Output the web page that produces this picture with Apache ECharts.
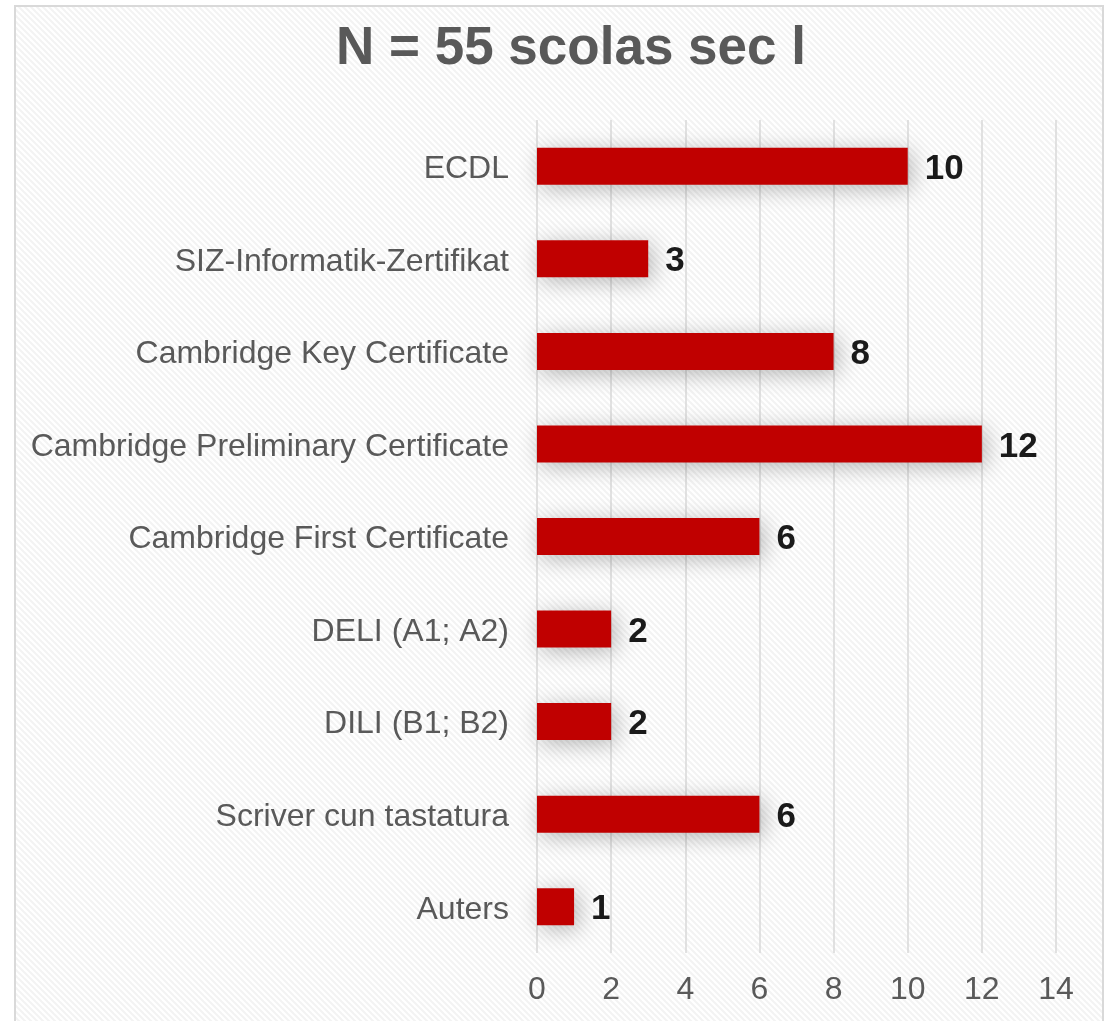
<!DOCTYPE html>
<html>
<head>
<meta charset="utf-8">
<script src="https://cdn.jsdelivr.net/npm/echarts@6/dist/echarts.min.js"></script>
<style>
html,body{margin:0;padding:0;background:#fff;}
#chart{width:1109px;height:1021px;}
</style>
</head>
<body>
<div id="chart"></div>
<script>
const titleText = 'N = 55 scolas sec l';
const categories = [
  'ECDL',
  'SIZ-Informatik-Zertifikat',
  'Cambridge Key Certificate',
  'Cambridge Preliminary Certificate',
  'Cambridge First Certificate',
  'DELI (A1; A2)',
  'DILI (B1; B2)',
  'Scriver cun tastatura',
  'Auters'
];
const values = [10, 3, 8, 12, 6, 2, 2, 6, 1];
const xTicks = [0, 2, 4, 6, 8, 10, 12, 14];

// diagonal stripe pattern
const pc = document.createElement('canvas');
pc.width = 6; pc.height = 6;
const g = pc.getContext('2d');
g.fillStyle = '#ffffff';
g.fillRect(0, 0, 6, 6);
g.strokeStyle = '#f3f3f3';
g.lineWidth = 2;
for (let k = -1; k <= 1; k++) {
  g.beginPath();
  g.moveTo(-2, -2 + 6 * k);
  g.lineTo(8, 8 + 6 * k);
  g.stroke();
}

const chart = echarts.init(document.getElementById('chart'), null, {renderer: 'canvas'});
chart.setOption({
  backgroundColor: '#ffffff',
  animation: false,
  title: {
    text: titleText,
    left: 331,
    top: 18,
    textStyle: {
      fontFamily: 'Liberation Sans, Arial, sans-serif',
      fontSize: 53,
      fontWeight: 'bold',
      color: '#595959'
    }
  },
  graphic: [{
    type: 'rect',
    z: -10,
    silent: true,
    shape: {x: 15, y: 6, width: 1088, height: 1100},
    style: {fill: {image: pc, repeat: 'repeat'}, stroke: '#d9d9d9', lineWidth: 2}
  }],
  grid: {left: 537, right: 53, top: 120, bottom: 68, containLabel: false},
  xAxis: {
    type: 'value',
    min: xTicks[0],
    max: xTicks[xTicks.length - 1],
    interval: 2,
    axisLine: {show: false},
    axisTick: {show: false},
    splitLine: {show: true, lineStyle: {color: '#d9d9d9', width: 1.5}},
    axisLabel: {
      fontFamily: 'Liberation Sans, Arial, sans-serif',
      fontSize: 32,
      color: '#595959',
      margin: 21
    }
  },
  yAxis: {
    type: 'category',
    data: categories,
    inverse: true,
    axisLine: {show: false},
    axisTick: {show: false},
    splitLine: {show: false},
    axisLabel: {
      margin: 28,
      formatter: '{a|{value}}',
      rich: {
        a: {
          fontFamily: 'Liberation Sans, Arial, sans-serif',
          fontSize: 32,
          color: '#595959',
          padding: [6, 0, 0, 0]
        }
      }
    }
  },
  series: [{
    type: 'bar',
    data: values,
    barWidth: '40%',
    itemStyle: {
      color: '#c00000',
      shadowBlur: 22,
      shadowColor: 'rgba(0,0,0,0.28)',
      shadowOffsetX: 4,
      shadowOffsetY: 4
    },
    label: {
      show: true,
      position: 'right',
      distance: 17,
      offset: [0, 3],
      fontFamily: 'Liberation Sans, Arial, sans-serif',
      fontSize: 35,
      fontWeight: 'bold',
      color: '#1a1a1a'
    }
  }]
});
</script>
</body>
</html>
